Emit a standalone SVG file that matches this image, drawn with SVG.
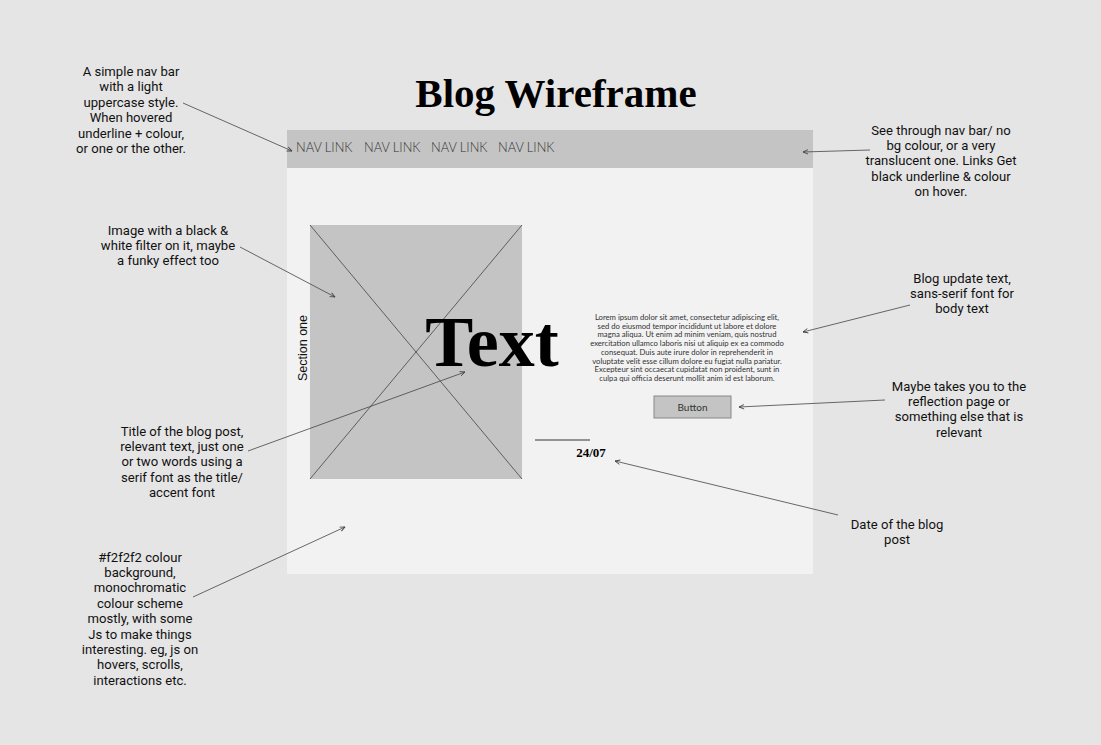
<svg xmlns="http://www.w3.org/2000/svg" width="1101" height="745" viewBox="0 0 1101 745">
<style>
.note{font-family:Roboto,"Liberation Sans",sans-serif;font-size:13.1px;fill:#111;text-anchor:middle}
.nav{font-family:Lato,"Open Sans",sans-serif;font-size:12.8px;font-weight:300;fill:#333}
.serif{font-family:"Liberation Serif","DejaVu Serif",serif;font-weight:bold;fill:#000}
.conn{stroke:#444;stroke-width:0.8;fill:none;marker-end:url(#ah)}
</style>
<defs>
<marker id="ah" viewBox="0 0 6 6" refX="5.5" refY="3" markerWidth="6" markerHeight="6" orient="auto" markerUnits="userSpaceOnUse">
<path d="M0.5,0.8 L5.5,3 L0.5,5.2" fill="none" stroke="#444" stroke-width="0.9"/>
</marker>
</defs>
<rect width="1101" height="745" fill="#e5e5e5"/>
<text class="serif" x="556" y="107" font-size="41" text-anchor="middle">Blog Wireframe</text>
<g id="page">
<rect x="287" y="130" width="526" height="444" fill="#f2f2f2"/>
</g>
<g id="navbar">
<rect x="287" y="130" width="526" height="38" fill="#c4c4c4"/>
<text class="nav" x="296" y="152">NAV LINK</text>
<text class="nav" x="364" y="152">NAV LINK</text>
<text class="nav" x="431" y="152">NAV LINK</text>
<text class="nav" x="498" y="152">NAV LINK</text>
</g>
<g id="image">
<rect x="310" y="225" width="212" height="254" fill="#c4c4c4"/>
<line x1="310" y1="225" x2="522" y2="479" stroke="#444" stroke-width="0.8"/>
<line x1="522" y1="225" x2="310" y2="479" stroke="#444" stroke-width="0.8"/>
</g>
<g id="section-label">
<text x="307" y="348" transform="rotate(-90 307 348)" font-family="'Liberation Sans',Arial,sans-serif" font-size="12.5" fill="#111" text-anchor="middle">Section one</text>
</g>
<g id="title-text">
<text class="serif" x="492" y="366" font-size="72" text-anchor="middle">Text</text>
</g>
<g id="body-text" font-family="Lato,'Open Sans',sans-serif" font-size="7.7" fill="#333" text-anchor="middle">
<text x="687" y="320">Lorem ipsum dolor sit amet, consectetur adipiscing elit,</text>
<text x="687" y="328.7">sed do eiusmod tempor incididunt ut labore et dolore</text>
<text x="687" y="337.4">magna aliqua. Ut enim ad minim veniam, quis nostrud</text>
<text x="687" y="346.1">exercitation ullamco laboris nisi ut aliquip ex ea commodo</text>
<text x="687" y="354.8">consequat. Duis aute irure dolor in reprehenderit in</text>
<text x="687" y="363.5">voluptate velit esse cillum dolore eu fugiat nulla pariatur.</text>
<text x="687" y="372.2">Excepteur sint occaecat cupidatat non proident, sunt in</text>
<text x="687" y="380.9">culpa qui officia deserunt mollit anim id est laborum.</text>
</g>
<g id="button">
<rect x="654" y="396" width="77" height="22" fill="#c4c4c4" stroke="#888" stroke-width="1"/>
<text x="692.5" y="411" font-family="Lato,'Open Sans',sans-serif" font-size="10" fill="#333" text-anchor="middle">Button</text>
</g>
<g id="date">
<line x1="535" y1="440" x2="590" y2="440" stroke="#333" stroke-width="1"/>
<text class="serif" x="591" y="457" font-size="13" text-anchor="middle">24/07</text>
</g>
<g id="note-nav">
<text class="note" x="131" y="76">A simple nav bar</text>
<text class="note" x="131" y="91.4">with a light</text>
<text class="note" x="131" y="106.8">uppercase style.</text>
<text class="note" x="131" y="122.2">When hovered</text>
<text class="note" x="131" y="137.6">underline + colour,</text>
<text class="note" x="131" y="153">or one or the other.</text>
</g>
<g id="note-seethrough">
<text class="note" x="941" y="134.5">See through nav bar/ no</text>
<text class="note" x="941" y="149.9">bg colour, or a very</text>
<text class="note" x="941" y="165.3">translucent one. Links Get</text>
<text class="note" x="941" y="180.7">black underline &amp; colour</text>
<text class="note" x="941" y="196.1">on hover.</text>
</g>
<g id="note-image">
<text class="note" x="168" y="234.5">Image with a black &amp;</text>
<text class="note" x="168" y="249.9">white filter on it, maybe</text>
<text class="note" x="168" y="265.3">a funky effect too</text>
</g>
<g id="note-body">
<text class="note" x="962" y="282.5">Blog update text,</text>
<text class="note" x="962" y="297.9">sans-serif font for</text>
<text class="note" x="962" y="313.3">body text</text>
</g>
<g id="note-button">
<text class="note" x="959" y="390.5">Maybe takes you to the</text>
<text class="note" x="959" y="405.9">reflection page or</text>
<text class="note" x="959" y="421.3">something else that is</text>
<text class="note" x="959" y="436.7">relevant</text>
</g>
<g id="note-title">
<text class="note" x="182" y="435.5">Title of the blog post,</text>
<text class="note" x="182" y="450.9">relevant text, just one</text>
<text class="note" x="182" y="466.3">or two words using a</text>
<text class="note" x="182" y="481.7">serif font as the title/</text>
<text class="note" x="182" y="497.1">accent font</text>
</g>
<g id="note-date">
<text class="note" x="897" y="528.5">Date of the blog</text>
<text class="note" x="897" y="543.9">post</text>
</g>
<g id="note-bg">
<text class="note" x="140" y="561.5">#f2f2f2 colour</text>
<text class="note" x="140" y="576.9">background,</text>
<text class="note" x="140" y="592.3">monochromatic</text>
<text class="note" x="140" y="607.7">colour scheme</text>
<text class="note" x="140" y="623.1">mostly, with some</text>
<text class="note" x="140" y="638.5">Js to make things</text>
<text class="note" x="140" y="653.9">interesting. eg, js on</text>
<text class="note" x="140" y="669.3">hovers, scrolls,</text>
<text class="note" x="140" y="684.7">interactions etc.</text>
</g>
<g id="connectors">
<line class="conn" x1="183" y1="103" x2="292" y2="151"/>
<line class="conn" x1="870" y1="150" x2="803" y2="152"/>
<line class="conn" x1="240" y1="247" x2="335" y2="297"/>
<line class="conn" x1="910" y1="305" x2="803" y2="332"/>
<line class="conn" x1="885" y1="400" x2="739" y2="407"/>
<line class="conn" x1="248" y1="451" x2="465" y2="372"/>
<line class="conn" x1="838" y1="515" x2="615" y2="461"/>
<line class="conn" x1="193" y1="597" x2="345" y2="527"/>
</g>
</svg>
